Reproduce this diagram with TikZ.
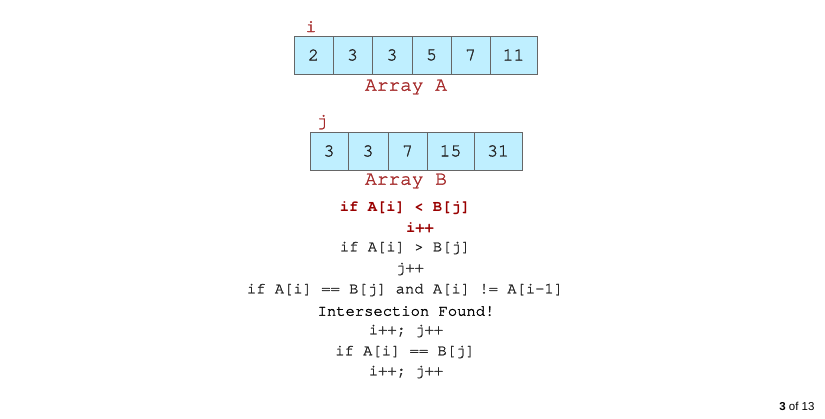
\documentclass[tikz,border=0pt]{standalone}
\usepackage{fontspec}
\setmonofont{TeX Gyre Cursor}[UprightFeatures={FakeBold=1.6}]
\setsansfont{Liberation Sans}
\usetikzlibrary{positioning}
\definecolor{cellfill}{HTML}{BFEFFF}
\definecolor{labelred}{HTML}{A52A2A}
\definecolor{codered}{HTML}{990000}

\begin{document}
\begin{tikzpicture}[x=1pt,y=-1pt]
          \tikzstyle{cell}=[draw=black!60, line width=1pt, fill=cellfill, minimum height=38pt, inner sep=0pt, text=black!85, font=\ttfamily\fontsize{18}{18}\selectfont]
          \tikzstyle{idx}=[anchor=base, text=labelred, font=\ttfamily\fontsize{18}{18}\selectfont]
          \tikzstyle{caption}=[text=labelred, font=\ttfamily\fontsize{19.5}{20}\selectfont]
          \tikzstyle{code}=[inner sep=0pt, text=black!85, font=\ttfamily\fontsize{15.5}{16}\selectfont]
          \tikzstyle{hot}=[code, text=codered, font=\ttfamily\bfseries\fontsize{15.5}{16}\selectfont]
          \useasboundingbox (0,0) rectangle (825,418);
          \foreach \v/\l/\r [count=\k] in {2/294/333,3/333/372,3/372/412,5/412/451,7/451/490,11/490/537}
              \node[cell, minimum width={(\r-\l)*1pt}] (A\k) at ({(\l+\r)/2},55) {\v};
          \foreach \v/\l/\r [count=\k] in {3/310/348,3/348/388,7/388/427,15/427/474,31/474/522}
              \node[cell, minimum width={(\r-\l)*1pt}] (B\k) at ({(\l+\r)/2},151) {\v};
          \node[idx] (i) at (311,32) {i};
          \node[idx] (j) at (322,126) {j};
          \node[caption] (capA) at (406,87) {Array A};
          \node[caption] (capB) at (406,181) {Array B};
          \node[hot] (c1) at (405,208) {if A[i] < B[j]};
          \node[hot] (c2) at (420,228) {i++};
          \node[code] (c3) at (405,248) {if A[i] > B[j]};
          \node[code] (c4) at (410,269) {j++};
          \node[code] (c5) at (405,290) {if A[i] == B[j] and A[i] != A[i-1]};
          \node[code, text=black] (c6) at (406,311) {Intersection Found!};
          \node[code] (c7) at (406,331) {i++; j++};
          \node[code] (c8) at (405,352) {if A[i] == B[j]};
          \node[code] (c9) at (406,372) {i++; j++};
          \node[anchor=east, font=\sffamily\fontsize{11.5}{12}\selectfont] (page) at (818,406) {\textbf{3} of 13};
      \end{tikzpicture}
\end{document}
